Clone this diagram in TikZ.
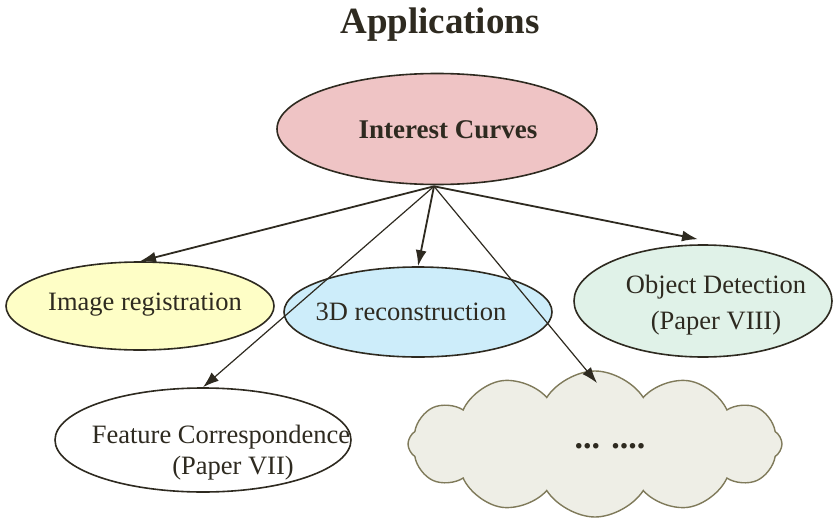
\documentclass[tikz,border=0pt]{standalone}
\usepackage{fontspec}
\setmainfont{Liberation Serif}
\usetikzlibrary{shapes.geometric,shapes.symbols,arrows.meta,calc}
\definecolor{inkc}{HTML}{2E2A20}
\definecolor{pinkf}{HTML}{EFC4C5}
\definecolor{yellowf}{HTML}{FEFEC6}
\definecolor{bluef}{HTML}{CDEDFA}
\definecolor{greenf}{HTML}{E0F2E8}
\definecolor{cloudf}{HTML}{EEEEE6}
\definecolor{cloudd}{HTML}{7F7A5A}
\tikzset{
  oval/.style={ellipse, draw=inkc, line width=1.6pt, inner sep=0pt},
  txt/.style={text=inkc, font=\fontsize{26.5}{34}\selectfont, align=center, inner sep=0pt},
  thickarr/.style={draw=inkc, line width=1.8pt, -{Latex[length=16pt,width=11pt]}},
  thinarr/.style={draw=inkc, line width=1.2pt, -{Latex[length=16pt,width=11pt]}},
}
\begin{document}
\begin{tikzpicture}[x=1pt,y=-1pt]
\useasboundingbox (0,0) rectangle (833,522);
\node[txt, font=\bfseries\fontsize{37}{42}\selectfont] (title) at (440,25) {Applications};
\node[oval, fill=pinkf, minimum width=320pt, minimum height=111pt] (ic) at (437,129) {};
\node[txt, font=\bfseries\fontsize{27}{32}\selectfont] (ict) at (448,130) {Interest Curves};
\node[oval, fill=yellowf, minimum width=268pt, minimum height=88pt] (ir) at (140,306) {};
\node[txt] (irt) at (145,305) {Image registration};
\node[oval, fill=bluef, minimum width=268pt, minimum height=90pt] (td) at (418,312) {};
\node[txt] (tdt) at (411,312) {3D reconstruction};
\node[oval, fill=greenf, minimum width=258pt, minimum height=112pt] (od) at (703,301) {};
\node[txt] (odt1) at (716,287) {Object Detection};
\node[txt] (odt2) at (716,323) {(Paper VIII)};
\node[oval, fill=white, minimum width=296pt, minimum height=104pt] (fc) at (203,440) {};
\node[txt] (fct1) at (221,437) {Feature Correspondence};
\node[txt] (fct2) at (233,468) {(Paper VII)};
\node[cloud, cloud puffs=12, cloud puff arc=115, aspect=2.6, draw=cloudd, line width=1.4pt, fill=cloudf, minimum width=374pt, minimum height=146pt] (cl) at (595,444) {};
\node[txt, font=\bfseries\fontsize{34}{38}\selectfont] (clt) at (610,446) {... ....};
\coordinate (o) at ($(ic.south)+(-3,1)$);
\coordinate (clin) at (597,383);
\draw[thickarr] (o) -- (ir.north);
\draw[thickarr] (o) -- (td.north);
\draw[thickarr] (o) -- ($(od.north)+(-5,-5)$);
\draw[thinarr] (o) -- (fc.north);
\draw[thinarr] (o) -- (clin);
\end{tikzpicture}
\end{document}
